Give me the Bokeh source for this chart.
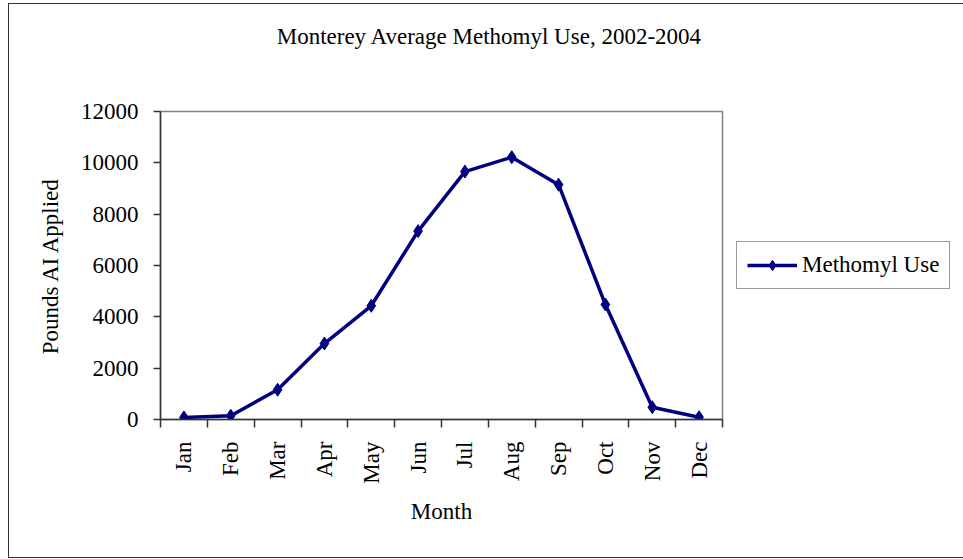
import math
from bokeh.plotting import figure
from bokeh.models import Range1d, FixedTicker, Label, Legend, LegendItem
from bokeh.embed import file_html
from bokeh.resources import INLINE

# ---- data ----
months = ["Jan", "Feb", "Mar", "Apr", "May", "Jun",
          "Jul", "Aug", "Sep", "Oct", "Nov", "Dec"]
methomyl_use = [80, 145, 1160, 2960, 4430, 7340, 9660, 10220, 9150, 4480, 480, 90]
y_ticks = [0, 2000, 4000, 6000, 8000, 10000, 12000]
title_text = "Monterey Average Methomyl Use, 2002-2004"
series_name = "Methomyl Use"
x_label = "Month"
y_label = "Pounds AI Applied"

# category centres / boundaries derived from the month list
x_pos = [i + 0.5 for i in range(len(months))]
x_bounds = list(range(len(months) + 1))

FONT = "Liberation Serif"
FS = "23px"
DARK = "#333333"
NAVY = "#000080"

p = figure(frame_width=562, frame_height=308, output_backend="svg", toolbar_location=None,
           x_range=Range1d(0, len(months)), y_range=Range1d(y_ticks[0], y_ticks[-1]),
           min_border_left=151, min_border_right=241,
           min_border_top=107, min_border_bottom=138)
p.styles = {"margin-left": "8px", "margin-top": "3px",
            "border-top": "1px solid #333", "border-left": "1px solid #333",
            "border-bottom": "1px solid #333"}
p.background_fill_color = "white"
p.border_fill_color = "white"
p.outline_line_color = "#808080"
p.outline_line_width = 1.5
p.xgrid.visible = False
p.ygrid.visible = False

# y axis
ya = p.yaxis[0]
ya.ticker = FixedTicker(ticks=y_ticks)
ya.axis_line_color = DARK
ya.axis_line_width = 1.5
ya.major_tick_line_color = DARK
ya.major_tick_line_width = 1.5
ya.major_tick_out = 7
ya.major_tick_in = 0
ya.minor_tick_line_color = None
ya.major_label_standoff = 15
ya.major_label_text_font = FONT
ya.major_label_text_font_size = FS
ya.major_label_text_color = "black"
ya.axis_label = y_label
ya.axis_label_text_font = FONT
ya.axis_label_text_font_size = FS
ya.axis_label_text_font_style = "normal"
ya.axis_label_text_color = "black"
ya.axis_label_standoff = 15

# x axis
xa = p.xaxis[0]
xa.ticker = FixedTicker(ticks=x_pos, minor_ticks=x_bounds)
xa.major_label_overrides = {x: m for x, m in zip(x_pos, months)}
xa.major_label_orientation = math.pi / 2
xa.axis_line_color = DARK
xa.axis_line_width = 1.5
xa.major_tick_line_color = None
xa.major_tick_out = 0
xa.major_tick_in = 0
xa.minor_tick_line_color = DARK
xa.minor_tick_line_width = 1.5
xa.minor_tick_out = 8
xa.minor_tick_in = 0
xa.major_label_standoff = 14
xa.major_label_text_font = FONT
xa.major_label_text_font_size = FS
xa.major_label_text_color = "black"
xa.axis_label = x_label
xa.axis_label_text_font = FONT
xa.axis_label_text_font_size = FS
xa.axis_label_text_font_style = "normal"
xa.axis_label_text_color = "black"
xa.axis_label_standoff = 12

# series
ln = p.line(x_pos, methomyl_use, line_color=NAVY, line_width=3.5)
sc = p.scatter(x_pos, methomyl_use, marker="diamond", size=13,
               fill_color=NAVY, line_color=NAVY)

legend = Legend(items=[LegendItem(label=series_name, renderers=[ln, sc])],
                location="left", orientation="vertical")
legend.label_text_font = FONT
legend.label_text_font_size = FS
legend.label_text_color = "black"
legend.glyph_width = 50
legend.glyph_height = 26
legend.label_standoff = 5
legend.padding = 10
legend.margin = 14
legend.border_line_color = DARK
legend.border_line_width = 1
legend.background_fill_alpha = 1
p.add_layout(legend, "right")

# chart title, placed in the panel above the frame
title = Label(x=329, y=75, x_units="screen", y_units="screen", text=title_text,
              text_align="center", text_baseline="middle",
              text_font=FONT, text_font_size=FS, text_color="black")
p.add_layout(title, "above")

open("out.html", "w").write(file_html(p, INLINE))
